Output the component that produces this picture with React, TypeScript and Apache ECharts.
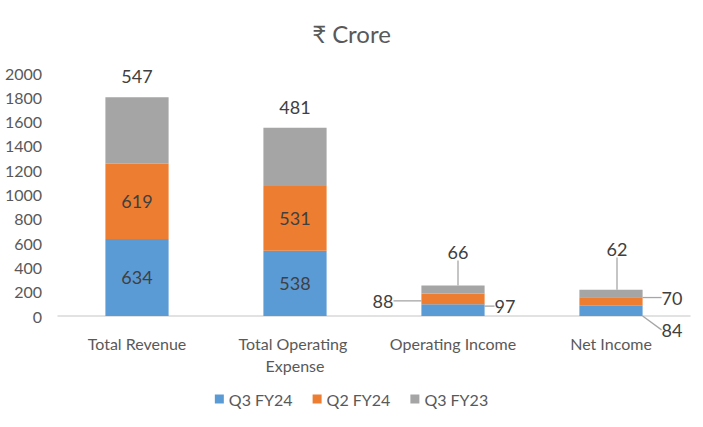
import React, { useEffect, useRef } from "react";
import * as echarts from "echarts";

const categories = ["Total Revenue", "Total Operating Expense", "Operating Income", "Net Income"];
const seriesNames = ["Q3 FY24", "Q2 FY24", "Q3 FY23"];
const q3fy24 = [634, 538, 97, 84];
const q2fy24 = [619, 531, 88, 70];
const q3fy23 = [547, 481, 66, 62];
const colors = ["#5B9BD5", "#ED7D31", "#A5A5A5"];

// label offsets (dx, dy) for the small bars, per series, per category
const labelOffsets: Array<Array<[number, number] | null>> = [
  [null, null, [52, -4], [61, 19]],
  [null, null, [-70, 2], [61, -4]],
  [null, null, [5, -38], [6, -45]],
];

const FONT = "Lato, 'Noto Sans', 'DejaVu Sans', sans-serif";

export default function App() {
  const ref = useRef<HTMLDivElement>(null);
  useEffect(() => {
    if (!ref.current) return;
    const chart = echarts.init(ref.current, null, { renderer: "svg" });
    const allValues = [q3fy24, q2fy24, q3fy23];
    const series = allValues.map((vals, si) => ({
      name: seriesNames[si],
      type: "bar",
      stack: "total",
      barWidth: "40%",
      itemStyle: { color: colors[si] },
      label: {
        show: true,
        position: "inside",
        color: "#404040",
        fontSize: 18,
        fontFamily: FONT,
      },
      labelLine: {
        show: false,
        lineStyle: { color: "#A6A6A6", width: 1.3 },
      },
      labelLayout: (params: any) => {
        const off = labelOffsets[si][params.dataIndex];
        if (!off) return {};
        return { dx: off[0], dy: off[1] };
      },
      data: vals.map((v, i) => {
        const item: any = { value: v };
        if (labelOffsets[si][i]) {
          item.labelLine = { show: true, lineStyle: { color: "#A6A6A6", width: 1.3 } };
        } else if (si === 2) {
          item.label = { position: "top", distance: 12 };
        }
        return item;
      }),
    }));
    chart.setOption({
      animation: false,
      title: {
        text: "₹ Crore",
        left: "center",
        top: 16,
        textStyle: { fontFamily: FONT, fontSize: 24, fontWeight: "normal", color: "#595959" },
      },
      legend: {
        bottom: 15,
        left: "center",
        icon: "rect",
        itemWidth: 9,
        itemHeight: 9,
        itemGap: 20,
        textStyle: { fontFamily: FONT, fontSize: 16, color: "#595959" },
        data: seriesNames,
      },
      grid: { left: 58, right: 13, top: 73, bottom: 111, containLabel: false },
      xAxis: {
        type: "category",
        data: categories,
        axisLine: { lineStyle: { color: "#D9D9D9", width: 1.5 } },
        axisTick: { show: false },
        axisLabel: {
          fontFamily: FONT,
          fontSize: 16,
          color: "#595959",
          margin: 16,
          lineHeight: 22,
          width: 145,
          overflow: "break",
          interval: 0,
        },
      },
      yAxis: {
        type: "value",
        min: 0,
        max: 2000,
        interval: 200,
        axisLine: { show: false },
        axisTick: { show: false },
        splitLine: { show: false },
        axisLabel: {
          fontFamily: FONT,
          fontSize: 16,
          color: "#595959",
          margin: 16,
          formatter: (v: number) => String(v),
        },
      },
      series,
    });
    return () => chart.dispose();
  }, []);
  return (
    <div
      ref={ref}
      style={{ position: "absolute", left: 0, top: 0, width: 703, height: 427, background: "#fff" }}
    />
  );
}
